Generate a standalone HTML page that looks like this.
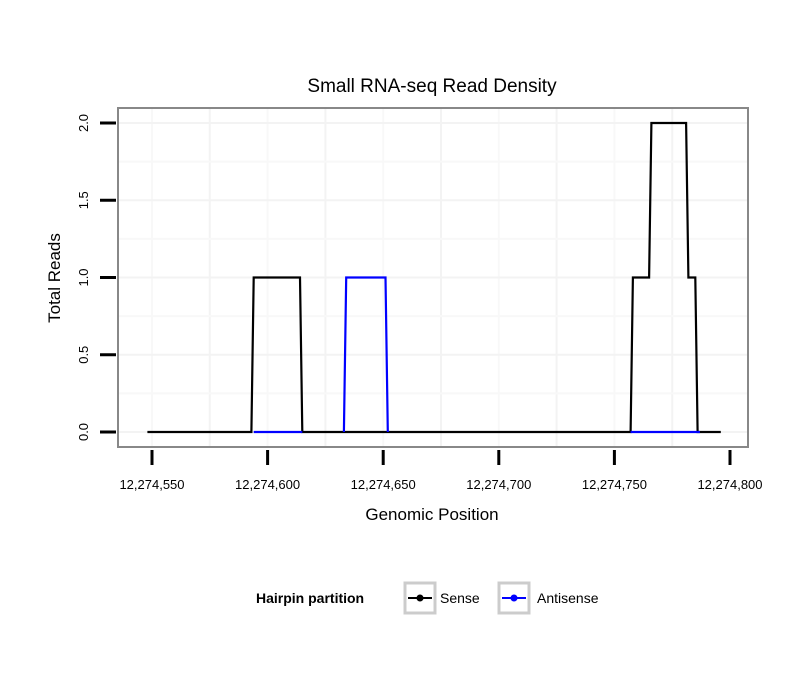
<!DOCTYPE html>
<html><head><meta charset="utf-8"><style>
body{margin:0;background:#fff}
svg{font-family:"Liberation Sans",sans-serif;display:block}
</style></head><body>
<svg id="chart" width="810" height="690"></svg>
<script>
const xTicks=[12274550,12274600,12274650,12274700,12274750,12274800];
const xTickLabels=["12,274,550","12,274,600","12,274,650","12,274,700","12,274,750","12,274,800"];
const yTicks=[0,0.5,1,1.5,2];
const yTickLabels=["0.0","0.5","1.0","1.5","2.0"];
const sensePos=[12274548,12274593,12274594,12274614,12274615,12274757,12274758,12274765,12274766,12274781,12274782,12274785,12274786,12274796];
const senseVal=[0,0,1,1,0,0,1,1,2,2,1,1,0,0];
const antiPos=[12274594,12274615,null,12274633,12274634,12274651,12274652,null,12274757,12274787];
const antiVal=[0,0,null,0,1,1,0,null,0,0];

const NS="http://www.w3.org/2000/svg";
const svg=document.getElementById('chart');
const x=v=>152+(v-12274550)*(578/250);
const y=v=>432-v*154.5;
function mk(t,a,p){const e=document.createElementNS(NS,t);for(const k in a)e.setAttribute(k,a[k]);(p||svg).appendChild(e);return e;}

const title=mk('text',{x:432,y:92,'text-anchor':'middle','font-size':19,fill:'#000'});title.textContent='Small RNA-seq Read Density';



const panel=mk('rect',{x:118,y:108,width:630,height:339,fill:'#fff'});


for(let i=0;i<=10;i++){const v=12274525+i*25;const gx=x(v);if(gx<118||gx>748)continue;
 const g=mk('line',{x1:gx,x2:gx,y1:108,y2:447,stroke:i%2?'#f8f8f8':'#f3f3f3','stroke-width':2});
 
 }
for(let k=-1;k<=9;k++){const v=k*0.25;const gy=y(v);if(gy<108||gy>447)continue;
 const g=mk('line',{x1:118,x2:748,y1:gy,y2:gy,stroke:k%2?'#f8f8f8':'#f3f3f3','stroke-width':2});
 
 }

function path(pos,val){let d='',pen=false;for(let i=0;i<pos.length;i++){if(pos[i]===null){pen=false;continue;}d+=(pen?'L':'M')+x(pos[i]).toFixed(1)+','+y(val[i]).toFixed(1);pen=true;}return d;}
const s=mk('path',{d:path(sensePos,senseVal),fill:'none',stroke:'#000','stroke-width':2.2});


const a=mk('path',{d:path(antiPos,antiVal),fill:'none',stroke:'#0000ff','stroke-width':2.2});



const border=mk('rect',{x:118,y:108,width:630,height:339,fill:'none',stroke:'#888','stroke-width':2});



xTicks.forEach((v,i)=>{
 const t=mk('line',{x1:x(v),x2:x(v),y1:450,y2:465,stroke:'#000','stroke-width':3});
 
 
 const l=mk('text',{x:x(v),y:489,'text-anchor':'middle','font-size':13,fill:'#000'});l.textContent=xTickLabels[i];
 
 
});
yTicks.forEach((v,i)=>{
 const t=mk('line',{x1:100,x2:116,y1:y(v),y2:y(v),stroke:'#000','stroke-width':3});
 
 
 const l=mk('text',{x:0,y:0,'text-anchor':'middle','font-size':13,fill:'#000',transform:`translate(88,${y(v)}) rotate(-90)`});l.textContent=yTickLabels[i];
 
 
});
const xt=mk('text',{x:432,y:520,'text-anchor':'middle','font-size':17,fill:'#000'});xt.textContent='Genomic Position';


const yt=mk('text',{x:0,y:0,'text-anchor':'middle','font-size':17,fill:'#000',transform:'translate(60,278) rotate(-90)'});yt.textContent='Total Reads';



const lt=mk('text',{x:256,y:603,'font-size':14,'font-weight':'bold',fill:'#000'});lt.textContent='Hairpin partition';


[[404,'#000','Sense',440],[498,'#0000ff','Antisense',537]].forEach(([bx,c,lab,tx])=>{
 const g=mk('g',{});
 
 
 mk('rect',{x:bx+1,y:583,width:30,height:30,fill:'#fff',stroke:'#ccc','stroke-width':3},g);
 mk('line',{x1:bx+4,x2:bx+28,y1:598,y2:598,stroke:c,'stroke-width':2},g);
 mk('circle',{cx:bx+16,cy:598,r:3.5,fill:c},g);
 const t=mk('text',{x:tx,y:603,'font-size':14,fill:'#000'},g);t.textContent=lab;
});
</script>
</body></html>
